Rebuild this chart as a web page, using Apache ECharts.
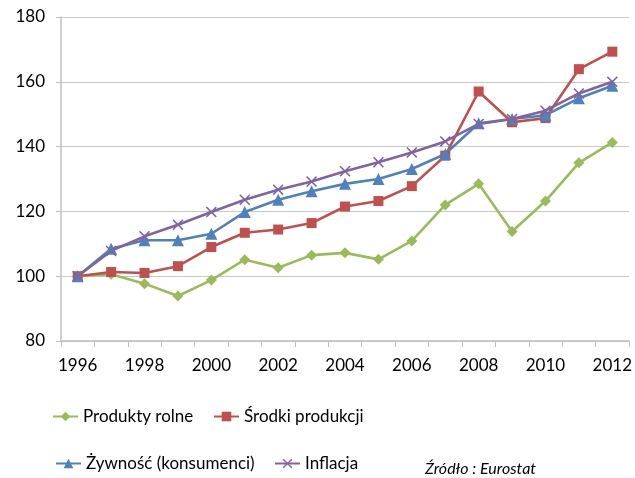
<!DOCTYPE html>
<html lang="pl">
<head>
    <meta charset="UTF-8">
    <title>Ceny rolne</title>
    <script type="text/javascript" src="https://cdn.jsdelivr.net/npm/echarts@6/dist/echarts.min.js"></script>
    <style type="text/css">
        html, body { margin: 0; padding: 0; background: #fff; }
        #chart { width: 635px; height: 478px; }
    </style>
</head>
<body>
<div id="chart"></div>
<script type="text/javascript">
    // lata i wartości (1996 = 100)
    let years = ['1996', '1997', '1998', '1999', '2000', '2001', '2002', '2003', '2004',
        '2005', '2006', '2007', '2008', '2009', '2010', '2011', '2012'];
    let produktyRolne = [100, 100.6, 97.7, 93.9, 98.8, 105.1, 102.6, 106.5, 107.2,
        105.2, 110.9, 122.0, 128.5, 113.8, 123.2, 135.0, 141.3];
    let srodkiProdukcji = [100, 101.3, 101.0, 103.1, 109.0, 113.4, 114.4, 116.4, 121.5,
        123.2, 127.8, 137.2, 157.0, 147.5, 148.8, 163.9, 169.3];
    let zywnosc = [100, 108.5, 111.1, 111.1, 113.1, 119.8, 123.6, 126.2, 128.5,
        130.0, 133.1, 137.7, 147.2, 148.5, 149.7, 154.9, 158.8];
    let inflacja = [100, 107.8, 112.3, 115.9, 119.8, 123.6, 126.7, 129.2, 132.4,
        135.2, 138.2, 141.6, 147.0, 148.5, 151.1, 156.4, 160.0];
    let yTicks = {min: 80, max: 180, step: 20};

    let font = 'Lato, "Open Sans", sans-serif';
    let crossPath = 'path://M0,1L1,0L5,4L9,0L10,1L6,5L10,9L9,10L5,6L1,10L0,9L4,5Z';

    // jedna legenda na pozycję - układ jak w oryginale
    function legendAt(name, left, top) {
        return {
            data: [name],
            left: left,
            top: top,
            padding: 0,
            itemWidth: 25,
            itemHeight: 12,
            itemGap: 4,
            textStyle: {fontFamily: font, fontSize: 17, color: '#000'}
        };
    }

    function lineSeries(name, data, color, symbol, size) {
        return {
            name: name,
            type: 'line',
            data: data,
            symbol: symbol,
            symbolSize: size,
            lineStyle: {color: color, width: 2.6},
            itemStyle: {color: color},
            emphasis: {disabled: true},
            z: 2
        };
    }

    let chart = echarts.init(document.getElementById('chart'));
    chart.setOption({
        animation: false,
        textStyle: {fontFamily: font},
        grid: {left: 61, right: 5, top: 17, bottom: 137, containLabel: false},
        legend: [
            legendAt('Produkty rolne', 52, 408),
            legendAt('Środki produkcji', 213, 408),
            legendAt('Żywność (konsumenci)', 55, 455),
            legendAt('Inflacja', 274, 455)
        ],
        graphic: [{
            type: 'text',
            left: 425,
            top: 461,
            style: {
                text: 'Źródło : Eurostat',
                font: 'italic 16px ' + font,
                fill: '#000'
            }
        }],
        xAxis: {
            type: 'category',
            data: years,
            boundaryGap: true,
            axisLine: {lineStyle: {color: '#bfbfbf', width: 1.5}},
            axisTick: {show: true, interval: 0, length: 6, lineStyle: {color: '#bfbfbf'}},
            axisLabel: {interval: 1, margin: 16, fontSize: 17, color: '#000', fontFamily: font}
        },
        yAxis: {
            type: 'value',
            min: yTicks.min,
            max: yTicks.max,
            interval: yTicks.step,
            axisLine: {show: true, lineStyle: {color: '#bfbfbf', width: 1.5}},
            axisTick: {show: true, length: 5, lineStyle: {color: '#bfbfbf'}},
            splitLine: {lineStyle: {color: '#c8c8c8', width: 1.2}},
            axisLabel: {margin: 16, fontSize: 17, color: '#000', fontFamily: font}
        },
        series: [
            lineSeries('Produkty rolne', produktyRolne, '#9bbb59', 'diamond', 11),
            lineSeries('Środki produkcji', srodkiProdukcji, '#c0504d', 'rect', 10),
            lineSeries('Żywność (konsumenci)', zywnosc, '#4f81bd', 'triangle', 12),
            lineSeries('Inflacja', inflacja, '#8064a2', crossPath, 11)
        ]
    });
</script>
</body>
</html>
